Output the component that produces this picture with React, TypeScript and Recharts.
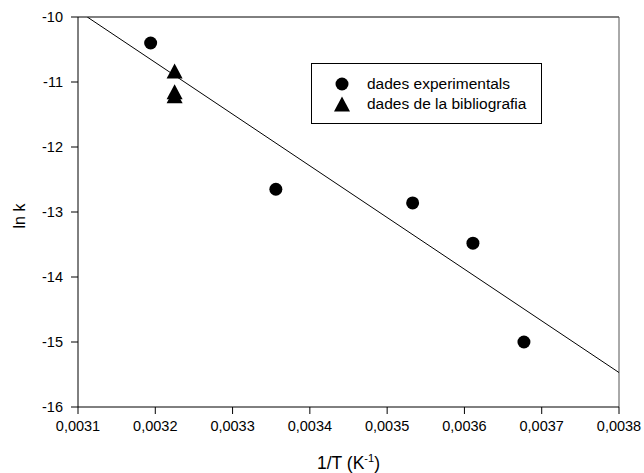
import React from "react";
import {
  ScatterChart,
  Scatter,
  XAxis,
  YAxis,
  ReferenceLine,
} from "recharts";

// 1/T (K^-1) vs ln k
const experimental = [
  { x: 0.003194, y: -10.4 },
  { x: 0.003356, y: -12.65 },
  { x: 0.003533, y: -12.86 },
  { x: 0.003611, y: -13.48 },
  { x: 0.003677, y: -15.0 },
];

const bibliography = [
  { x: 0.003225, y: -10.83 },
  { x: 0.003225, y: -11.15 },
  { x: 0.003225, y: -11.21 },
];

// fitted straight line
const fit = [
  { x: 0.003112, y: -10 },
  { x: 0.0038, y: -15.47 },
];

const xTicks = [0.0031, 0.0032, 0.0033, 0.0034, 0.0035, 0.0036, 0.0037, 0.0038];
const yTicks = [-16, -15, -14, -13, -12, -11, -10];

const font = '"Liberation Sans", Arial, sans-serif';

const Dot = (props: any) => (
  <circle cx={props.cx} cy={props.cy} r={6.5} fill="#000" />
);

const Tri = (props: any) => {
  const { cx, cy } = props;
  const w = 8;
  const h = 7.5;
  return (
    <polygon
      points={`${cx},${cy - h} ${cx - w},${cy + h} ${cx + w},${cy + h}`}
      fill="#000"
    />
  );
};

const LegendBox = () => (
  <div
    style={{
      position: "absolute",
      left: 311,
      top: 63,
      width: 231,
      height: 61,
      border: "1px solid #000",
      boxSizing: "border-box",
      background: "#fff",
      fontFamily: font,
      fontSize: 15.5,
    }}
  >
    <svg width={60} height={61} style={{ position: "absolute", left: 0, top: 0 }}>
      <circle cx={30} cy={20} r={6.5} fill="#000" />
      <polygon points="30,32.5 22,47.5 38,47.5" fill="#000" />
    </svg>
    <div style={{ position: "absolute", left: 55, top: 10, lineHeight: "20px", whiteSpace: "nowrap" }}>
      <div>dades experimentals</div>
      <div>dades de la bibliografia</div>
    </div>
  </div>
);

export default function App() {
  return (
    <div style={{ position: "absolute", left: 0, top: 0, width: 644, height: 473, fontFamily: font }}>
      <ScatterChart
        width={644}
        height={473}
        margin={{ top: 17, right: 25, bottom: 6, left: 10 }}
      >
        <XAxis
          type="number"
          dataKey="x"
          domain={[0.0031, 0.0038]}
          ticks={xTicks}
          allowDataOverflow
          tickFormatter={(v: number) => v.toFixed(4).replace(".", ",")}
          stroke="#000"
          tickSize={7}
          tickMargin={7}
          height={60}
          tick={{ fill: "#000", fontSize: 14.5, fontFamily: font }}
          label={{
            content: (p: any) => {
              const vb = p.viewBox;
              return (
                <text
                  x={vb.x + vb.width / 2}
                  y={vb.y + 62}
                  textAnchor="middle"
                  fontSize={17.5}
                  fontFamily={font}
                  fill="#000"
                >
                  1/T (K
                  <tspan dy={-7} fontSize={11}>
                    -1
                  </tspan>
                  <tspan dy={7}>)</tspan>
                </text>
              );
            },
          }}
        />
        <YAxis
          type="number"
          dataKey="y"
          domain={[-16, -10]}
          ticks={yTicks}
          allowDataOverflow
          stroke="#000"
          tickSize={7}
          tickMargin={8}
          width={68}
          tick={{ fill: "#000", fontSize: 14.5, fontFamily: font }}
          label={{
            content: (p: any) => {
              const vb = p.viewBox;
              const x = vb.x + 15;
              const y = vb.y + vb.height / 2 + 4;
              return (
                <text
                  x={x}
                  y={y}
                  transform={`rotate(-90 ${x} ${y})`}
                  textAnchor="middle"
                  fontSize={16}
                  fontFamily={font}
                  fill="#000"
                >
                  ln k
                </text>
              );
            },
          }}
        />
        <ReferenceLine y={-10} stroke="#000" />
        <ReferenceLine x={0.0038} stroke="#555" />
        <Scatter
          data={fit}
          line={{ stroke: "#000", strokeWidth: 1 }}
          shape={() => <g />}
          isAnimationActive={false}
          legendType="none"
        />
        <Scatter
          name="dades experimentals"
          data={experimental}
          shape={Dot}
          isAnimationActive={false}
        />
        <Scatter
          name="dades de la bibliografia"
          data={bibliography}
          shape={Tri}
          isAnimationActive={false}
        />
      </ScatterChart>
      <LegendBox />
    </div>
  );
}
